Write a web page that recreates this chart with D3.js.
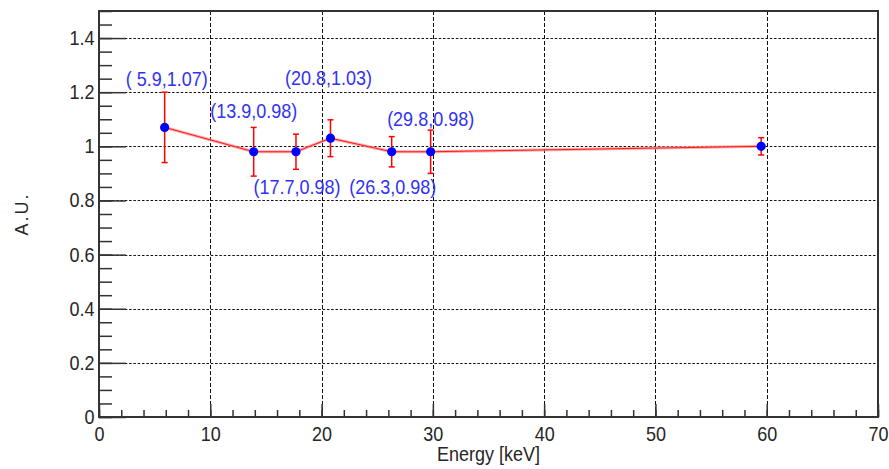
<!DOCTYPE html>
<html>
<head>
<meta charset="utf-8">
<script src="https://cdn.jsdelivr.net/npm/d3@7"></script>
<style>
  html, body { margin: 0; padding: 0; background: #ffffff; }
  svg { display: block; }
  text { font-family: "Liberation Sans", Arial, Helvetica, sans-serif; }
</style>
</head>
<body>
<svg id="chart" width="889" height="469"></svg>
<script>
// Measured response vs. photon energy
const energy = [5.9, 13.9, 17.7, 20.8, 26.3, 29.8, 59.5];
const response = [1.07, 0.98, 0.98, 1.03, 0.98, 0.98, 1.00];
const responseErr = [0.13, 0.09, 0.065, 0.068, 0.056, 0.08, 0.032];

// Which points carry a "(E,value)" annotation
const labelled = [true, true, true, true, true, true, false];

// Axis ticks
const xMajorTicks = [0, 10, 20, 30, 40, 50, 60, 70];
const xMinorTicks = d3.range(0, 70.001, 2);
const yMajorTicks = [0, 0.2, 0.4, 0.6, 0.8, 1, 1.2, 1.4];
const yMinorTicks = d3.range(0, 1.5001, 0.05);

const xTitle = "Energy [keV]";
const yTitle = "A.U.";

// Annotation placement relative to each marker (px): [dx, dy of baseline]
const labelOffsets = [[2, -41], [0, -34], [1, 42], [-2, -53], [1, 42], [0, -26], [0, 0]];

const svg = d3.select("#chart");
const frame = { left: 99, right: 878, top: 11, bottom: 417 };

const x = d3.scaleLinear().domain([0, 70]).range([frame.left, frame.right]);
const y = d3.scaleLinear().domain([0, 1.5]).range([frame.bottom, frame.top]);

const textColor = "#262626";
const squeeze = "scale(0.9,1)";

// Dotted grid
const grid = svg.append("g").attr("stroke", "#111").attr("stroke-width", 1)
  .attr("stroke-dasharray", "2.5,1.8").attr("fill", "none");
grid.selectAll("line.h").data(yMajorTicks.filter(v => v > 0)).join("line")
  .attr("class", "h")
  .attr("x1", frame.left).attr("x2", frame.right)
  .attr("y1", d => Math.round(y(d)) + 0.5).attr("y2", d => Math.round(y(d)) + 0.5);
grid.selectAll("line.v").data(xMajorTicks.filter(v => v > 0 && v < 70)).join("line")
  .attr("class", "v")
  .attr("x1", d => Math.round(x(d)) + 0.5).attr("x2", d => Math.round(x(d)) + 0.5)
  .attr("y1", frame.top).attr("y2", frame.bottom)
  .attr("stroke-dasharray", "4,2");

// Axes with inward ticks
function styleAxis(g) {
  g.select(".domain").remove();
  g.selectAll(".tick line").attr("stroke", "#333").attr("stroke-width", 1.5);
  g.selectAll(".tick text").attr("fill", textColor).attr("font-size", 20)
    .attr("transform", squeeze);
}

svg.append("g").attr("transform", `translate(0,${frame.bottom})`)
  .call(d3.axisBottom(x).tickValues(xMinorTicks).tickSize(-7).tickFormat(""))
  .call(styleAxis);
svg.append("g").attr("transform", `translate(0,${frame.bottom})`)
  .call(d3.axisBottom(x).tickValues(xMajorTicks).tickSize(-13).tickPadding(9.5)
    .tickFormat(d => String(d)))
  .call(styleAxis)
  .call(g => g.selectAll(".tick text").attr("transform", function () {
    return squeeze;
  }));

svg.append("g").attr("transform", `translate(${frame.left},0)`)
  .call(d3.axisLeft(y).tickValues(yMinorTicks).tickSize(-13).tickFormat(""))
  .call(styleAxis);
svg.append("g").attr("transform", `translate(${frame.left},0)`)
  .call(d3.axisLeft(y).tickValues(yMajorTicks).tickSize(-27).tickPadding(5)
    .tickFormat(d => String(+d.toFixed(2))))
  .call(styleAxis);

// Frame
svg.append("rect")
  .attr("x", frame.left).attr("y", frame.top)
  .attr("width", frame.right - frame.left).attr("height", frame.bottom - frame.top)
  .attr("fill", "none").attr("stroke", "#333").attr("stroke-width", 2);

// Axis titles
svg.append("text")
  .attr("transform", `translate(${(frame.left + frame.right) / 2},461) ${squeeze}`)
  .attr("text-anchor", "middle").attr("font-size", 20).attr("fill", textColor)
  .text(xTitle);
svg.append("text")
  .attr("transform", `translate(28,${(frame.top + frame.bottom) / 2}) rotate(-90)`)
  .attr("text-anchor", "middle").attr("font-size", 18).attr("letter-spacing", 2)
  .attr("fill", textColor)
  .text(yTitle);

const pts = energy.map((e, i) => ({ e, v: response[i], err: responseErr[i], i }));

// Connecting line: soft pink band with a thin red core
const line = d3.line().x(d => x(d.e)).y(d => y(d.v));
svg.append("path").datum(pts).attr("d", line)
  .attr("fill", "none").attr("stroke", "#ff8c8c").attr("stroke-width", 3).attr("opacity", 0.75);
svg.append("path").datum(pts).attr("d", line)
  .attr("fill", "none").attr("stroke", "#ff1a1a").attr("stroke-width", 1);

// Error bars
const eb = svg.append("g").attr("stroke", "#ff0000").attr("stroke-width", 1.5);
eb.selectAll("line.bar").data(pts).join("line").attr("class", "bar")
  .attr("x1", d => x(d.e)).attr("x2", d => x(d.e))
  .attr("y1", d => y(d.v + d.err)).attr("y2", d => y(d.v - d.err));
eb.selectAll("line.capT").data(pts).join("line").attr("class", "capT")
  .attr("x1", d => x(d.e) - 3).attr("x2", d => x(d.e) + 3)
  .attr("y1", d => y(d.v + d.err)).attr("y2", d => y(d.v + d.err));
eb.selectAll("line.capB").data(pts).join("line").attr("class", "capB")
  .attr("x1", d => x(d.e) - 3).attr("x2", d => x(d.e) + 3)
  .attr("y1", d => y(d.v - d.err)).attr("y2", d => y(d.v - d.err));

// Markers
svg.append("g").selectAll("circle").data(pts).join("circle")
  .attr("cx", d => x(d.e)).attr("cy", d => y(d.v)).attr("r", 4.6)
  .attr("fill", "#0000ff");

// Value annotations
const fmtE = e => (e < 10 ? " " : "") + e.toFixed(1);
svg.append("g").selectAll("text").data(pts.filter(d => labelled[d.i])).join("text")
  .attr("transform", d => `translate(${x(d.e) + labelOffsets[d.i][0]},${y(d.v) + labelOffsets[d.i][1]}) ${squeeze}`)
  .attr("text-anchor", "middle").attr("font-size", 20).attr("fill", "#3232f5")
  .attr("xml:space", "preserve").style("white-space", "pre")
  .text(d => `(${fmtE(d.e)},${d.v.toFixed(2)})`);
</script>
</body>
</html>
